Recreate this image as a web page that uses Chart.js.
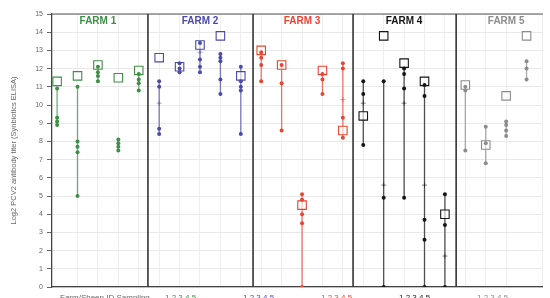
<!DOCTYPE html>
<html>
<head>
<meta charset="utf-8">
<script src="https://cdn.jsdelivr.net/npm/chart.js@4"></script>
<style>
  body { margin: 0; background: #fff; }
  #wrap { width: 550px; height: 298px; }
</style>
</head>
<body>
<div id="wrap"><canvas id="grafico"></canvas></div>
<script>
// farms and their colours
const farms = ["FARM 1", "FARM 2", "FARM 3", "FARM 4", "FARM 5"];
const farmColors = ["#3d8f45", "#4a4aa8", "#e8452e", "#151515", "#8c8c8c"];

// open square (group mean) for each sampling, 5 per farm
const boxValues = [
    11.3, 11.6, 12.2, 11.5, 11.9,
    12.6, 12.1, 13.3, 13.8, 11.6,
    13.0, 12.2, 4.5, 11.9, 8.6,
    9.4, 13.8, 12.3, 11.3, 4.0,
    11.1, 7.8, 10.5, 13.8
];

// individual animals (filled dots)
const dotValues = [
    [10.9, 9.3, 9.1, 8.9],
    [11.0, 8.0, 7.7, 7.4, 5.0],
    [12.1, 11.8, 11.6, 11.3],
    [8.1, 7.9, 7.7, 7.5],
    [11.7, 11.4, 11.2, 10.8],
    [11.3, 11.0, 8.7, 8.4],
    [12.3, 12.0, 11.8],
    [13.4, 12.5, 12.1, 11.8],
    [12.8, 12.6, 12.4, 11.4, 10.6],
    [12.1, 11.3, 11.0, 10.8, 8.4],
    [12.9, 12.6, 12.2, 11.3],
    [12.2, 11.2, 8.6],
    [5.1, 4.8, 4.0, 3.5, 0],
    [11.7, 11.4, 10.6],
    [12.3, 12.0, 9.3, 8.2],
    [11.3, 10.6, 7.8],
    [11.3, 4.9, 0],
    [12.0, 11.7, 10.9, 4.9],
    [11.1, 10.5, 3.7, 2.6, 0],
    [5.1, 3.4, 0],
    [11.0, 10.8, 7.5],
    [8.8, 7.9, 6.8],
    [9.1, 8.9, 8.6, 8.3],
    [12.4, 12.0, 11.4]
];

// small crosses
const plusValues = [
    [], [], [], [], [],
    [10.1], [], [12.9], [], [],
    [], [], [], [], [10.3],
    [10.1], [5.6], [10.1], [5.6], [1.7],
    [], [], [], []
];

const yTicks = [0, 1, 2, 3, 4, 5, 6, 7, 8, 9, 10, 11, 12, 13, 14, 15];
const separators = [4.45, 9.6, 14.5, 19.55];
const bottomLabels = ["Farm/Sheep ID Sampling", "1 2 3 4 5", "1 2 3 4 5", "1 2 3 4 5", "1 2 3 4 5", "1 2 3 4 5"];

const datasets = [];
farms.forEach((farm, f) => {
    const lineData = [];
    const dots = [];
    const boxes = [];
    const plus = [];
    for (let i = f * 5; i < f * 5 + 5 && i < boxValues.length; i++) {
        const vals = dotValues[i];
        lineData.push({ x: i, y: Math.max(...vals) });
        lineData.push({ x: i, y: Math.min(...vals) });
        lineData.push({ x: i, y: null });
        vals.forEach(v => dots.push({ x: i, y: v }));
        plusValues[i].forEach(v => plus.push({ x: i, y: v }));
        boxes.push({ x: i, y: boxValues[i] });
    }
    datasets.push({
        label: farm + " rango", data: lineData, showLine: true, spanGaps: false,
        borderColor: farmColors[f] + "bb", borderWidth: 1.3, pointRadius: 0, order: 4
    });
    datasets.push({
        label: farm + " cruz", data: plus, pointStyle: "cross", pointRadius: 2.5,
        borderColor: farmColors[f] + "88", borderWidth: 1, order: 3
    });
    datasets.push({
        label: farm + " media", data: boxes, pointStyle: "rect", pointRadius: 6,
        backgroundColor: "rgba(255,255,255,0.6)", borderColor: farmColors[f], borderWidth: 1.1, order: 2
    });
    datasets.push({
        label: farm, data: dots, pointStyle: "circle", pointRadius: 2,
        backgroundColor: farmColors[f], borderColor: farmColors[f], borderWidth: 0, order: 1
    });
});

const decoracion = {
    id: "decoracion",
    afterDraw(chart) {
        const ctx = chart.ctx;
        const a = chart.chartArea;
        const xs = chart.scales.x;
        ctx.save();
        // top border
        ctx.strokeStyle = "#555";
        ctx.lineWidth = 1.2;
        ctx.beginPath();
        ctx.moveTo(a.left, a.top);
        ctx.lineTo(a.right, a.top);
        ctx.stroke();
        // farm separators
        ctx.strokeStyle = "#333";
        ctx.lineWidth = 1.6;
        separators.forEach(s => {
            const px = xs.getPixelForValue(s);
            ctx.beginPath();
            ctx.moveTo(px, a.top);
            ctx.lineTo(px, a.bottom);
            ctx.stroke();
        });
        // farm titles
        ctx.font = "bold 10px 'Liberation Sans', Arial, sans-serif";
        ctx.textAlign = "center";
        ctx.textBaseline = "middle";
        farms.forEach((farm, f) => {
            ctx.fillStyle = farmColors[f];
            ctx.fillText(farm, xs.getPixelForValue(f * 5 + 2), a.top + 7);
        });
        // bottom labels (cut by the picture edge)
        ctx.font = "8px 'Liberation Sans', Arial, sans-serif";
        ctx.textAlign = "left";
        ctx.textBaseline = "alphabetic";
        ctx.fillStyle = "#666";
        ctx.fillText(bottomLabels[0], 60, 300);
        bottomLabels.slice(1).forEach((t, f) => {
            ctx.fillStyle = farmColors[f];
            ctx.fillText(t, 165 + f * 78, 300);
        });
        ctx.restore();
    }
};

new Chart(document.getElementById("grafico"), {
    type: "scatter",
    data: { datasets: datasets },
    options: {
        responsive: true,
        maintainAspectRatio: false,
        animation: false,
        layout: { padding: { top: 14, right: 0, left: 9, bottom: 0 } },
        plugins: { legend: { display: false }, tooltip: { enabled: false } },
        scales: {
            x: {
                type: "linear",
                min: -0.25,
                max: 23.8,
                ticks: { display: false, stepSize: 1 },
                grid: { color: "#eeeeee", drawTicks: false },
                border: { color: "#444", width: 1.2 },
                afterFit(scale) { scale.height = 11; }
            },
            y: {
                min: 0,
                max: 15,
                afterBuildTicks(scale) { scale.ticks = yTicks.map(v => ({ value: v })); },
                ticks: {
                    color: "#666",
                    font: { size: 7, family: "'Liberation Sans', Arial, sans-serif" },
                    padding: 4
                },
                grid: { color: "#e9e9e9", tickColor: "#666", tickLength: 5 },
                border: { color: "#444", width: 1.2 },
                title: {
                    display: true,
                    text: "Log2 PCV2 antibody titer (Synbiotics ELISA)",
                    color: "#666",
                    font: { size: 7.5, family: "'Liberation Sans', Arial, sans-serif" },
                    padding: { top: 0, bottom: 4 }
                },
                afterFit(scale) { scale.width = 43; }
            }
        }
    },
    plugins: [decoracion]
});
</script>
</body>
</html>
